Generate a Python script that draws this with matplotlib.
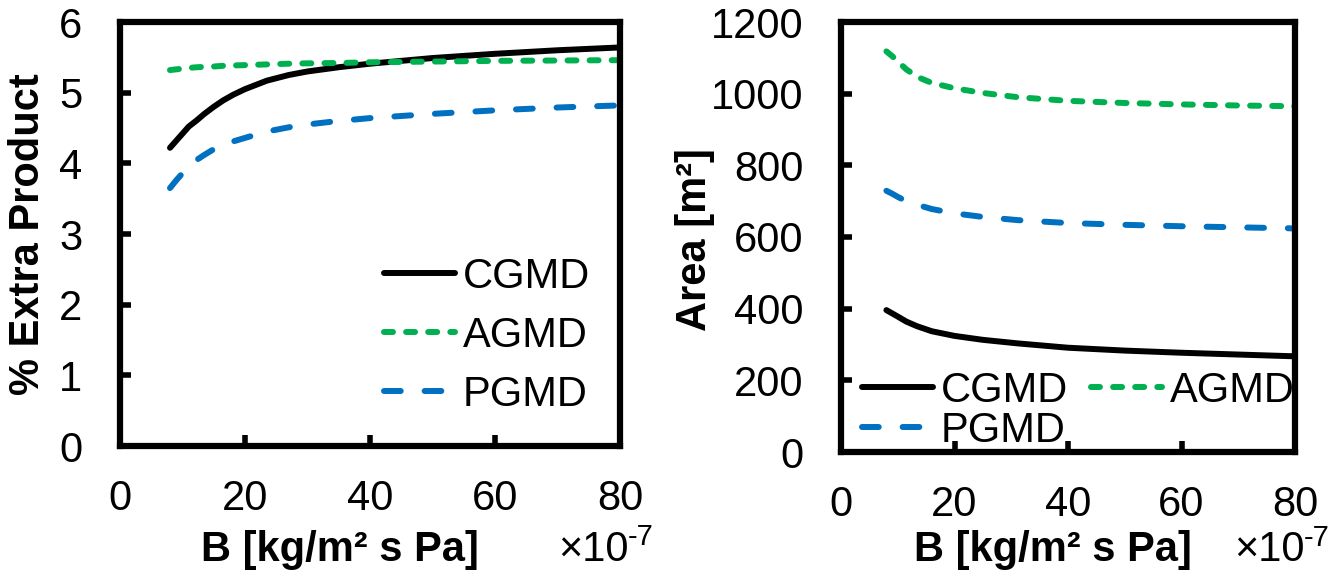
import numpy as np
import matplotlib.pyplot as plt

plt.rcParams['font.family'] = ['Liberation Sans', 'DejaVu Sans']
plt.rcParams['font.size'] = 30

# data (B in units of 1e-7)
b_left = [8, 9, 10, 11, 12.3, 13.5, 15, 16.5, 18.1, 20, 23.5, 27, 30, 35, 40, 45, 50, 60, 70, 80]
cgmd_pct = [4.22, 4.32, 4.42, 4.52, 4.61, 4.70, 4.80, 4.89, 4.97, 5.05, 5.17, 5.25, 5.30, 5.36,
            5.41, 5.45, 5.49, 5.55, 5.60, 5.64]
agmd_pct = [5.32, 5.33, 5.34, 5.35, 5.36, 5.365, 5.37, 5.38, 5.385, 5.39, 5.40, 5.41, 5.415,
            5.42, 5.43, 5.435, 5.44, 5.45, 5.455, 5.46]
pgmd_pct = [3.65, 3.76, 3.86, 3.96, 4.05, 4.12, 4.20, 4.26, 4.31, 4.36, 4.45, 4.51, 4.55, 4.60,
            4.64, 4.67, 4.70, 4.75, 4.79, 4.82]

b_right = [8, 9, 10, 11.5, 13.4, 16, 20, 25, 31.2, 40, 50, 60, 70, 80]
cgmd_area = [396, 387, 378, 364, 351, 337, 324, 313, 303, 291, 283, 277, 272, 267]
agmd_area = [1118, 1105, 1090, 1068, 1047, 1030, 1015, 1002, 990, 980, 974, 970, 967, 965]
pgmd_area = [729, 721, 712, 700, 690, 678, 666, 656, 647, 639, 634, 630, 627, 624]

names = ['CGMD', 'AGMD', 'PGMD']
colors = ['#000000', '#00b050', '#0070c0']
dashes = [None, (1.5, 2.2), (2.8, 4.0)]

fig = plt.figure(figsize=(13.43, 5.75), dpi=100)
ax1 = fig.add_axes([120 / 1343, 1 - 446 / 575, 500 / 1343, 424 / 575])
ax2 = fig.add_axes([841 / 1343, 1 - 452 / 575, 454 / 1343, 430 / 575])


def draw(ax, xs, series):
    lines = []
    for ys, name, c, d in zip(series, names, colors, dashes):
        ln, = ax.plot(xs, ys, color=c, lw=4.3, label=name, solid_capstyle='round',
                      dash_capstyle='round', clip_on=False)
        if d is not None:
            ln.set_dashes(d)
        lines.append(ln)
    ax.set_xlim(0, 80)
    ax.set_xticks([0, 20, 40, 60, 80])
    for s in ax.spines.values():
        s.set_linewidth(4.5)
    ax.tick_params(direction='in', length=8, width=4, labelsize=30)
    ax.tick_params(axis='x', pad=24)
    ax.tick_params(axis='y', pad=27)
    return lines


def exponent(ax, x, y):
    ax.text(x, y, '×10', transform=ax.transAxes, ha='left', va='center', fontsize=30)
    ax.annotate('-7', xy=(x, y), xycoords='axes fraction', xytext=(50, 9),
                textcoords='offset points', ha='left', va='center', fontsize=21)


draw(ax1, b_left, [cgmd_pct, agmd_pct, pgmd_pct])
ax1.set_ylim(0, 6)
ax1.set_yticks(range(7))
ax1.legend(loc='lower right', bbox_to_anchor=(0.982, 0.025), frameon=False, fontsize=30,
           handlelength=1.7, handletextpad=0.2, labelspacing=0.45, borderaxespad=0.1)

l2 = draw(ax2, b_right, [cgmd_area, agmd_area, pgmd_area])
ax2.set_ylim(0, 1200)
ax2.set_yticks(range(0, 1201, 200))
ax2.legend([l2[0], l2[2], l2[1]], ['CGMD', 'PGMD', 'AGMD'], loc='lower left',
           bbox_to_anchor=(0.0, -0.045), ncol=2, frameon=False, fontsize=30,
           handlelength=1.7, handletextpad=0.2, labelspacing=0.0, columnspacing=0.55,
           borderaxespad=0.1)

# axis titles
fig.text(28 / 1343, 1 - 234 / 575, '% Extra Product', rotation=90, ha='center', va='center',
         fontsize=30, fontweight='bold')
fig.text(695 / 1343, 1 - 240 / 575, 'Area [m²]', rotation=90, ha='center', va='center',
         fontsize=30, fontweight='bold')

ax1.text(0.44, -0.245, 'B [kg/m² s Pa]', transform=ax1.transAxes, ha='center', va='center',
         fontsize=30, fontweight='bold')
ax2.text(0.467, -0.228, 'B [kg/m² s Pa]', transform=ax2.transAxes, ha='center', va='center',
         fontsize=30, fontweight='bold')
exponent(ax1, 0.876, -0.245)
exponent(ax2, 0.866, -0.228)

fig.savefig('out.png', dpi=100)
